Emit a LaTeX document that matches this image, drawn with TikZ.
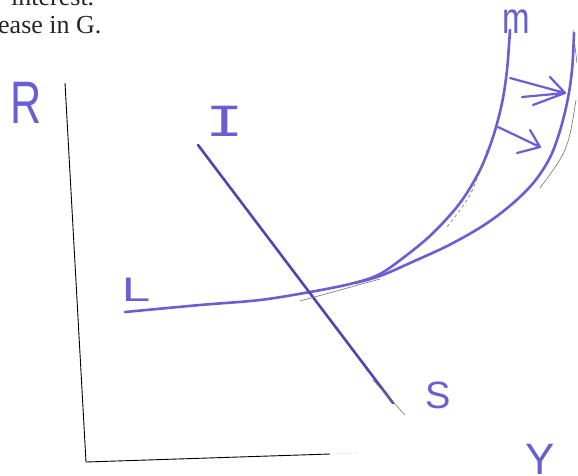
\documentclass[tikz,border=0pt]{standalone}
\usepackage{fontspec}
\setmainfont{Liberation Serif}
\newfontfamily\handfont{Liberation Sans}
\newfontfamily\monofont{Liberation Mono}
\definecolor{ink}{RGB}{105,95,210}
\definecolor{inkdark}{RGB}{80,70,175}
\begin{document}
\begin{tikzpicture}[x=1pt,y=-1pt]
\tikzset{
 pen/.style={draw=ink, line width=2.6pt, line cap=round, line join=round},
 pencil/.style={draw=black!55, line width=0.6pt},
 lab/.style={text=ink, inner sep=0pt},
 printed/.style={inner sep=0pt, anchor=base west, font=\fontsize{26}{30}\selectfont, text=black!85}
}
\useasboundingbox (0,0) rectangle (578,475);
\fill[white] (0,0) rectangle (578,475);
% printed text
\node[printed] (t1) at (11,5) {interest.};
\node[printed] (t2) at (-2,33) {ease in G.};
% axes
\coordinate (top) at (65,83);
\coordinate (origin) at (86,462);
\coordinate (xend) at (330,454);
\coordinate (xdot) at (358,453);
\draw[black, line width=0.9pt] (top) -- (origin) -- (xend);
\draw[black!60, dotted] (xend) -- (xdot);
% labels
\node[lab] (R) at (26,103) {\handfont\fontsize{60}{60}\selectfont\scalebox{0.72}[1]{R}};
\node[lab] (I) at (225,121) {\monofont\fontsize{46}{46}\selectfont\scalebox{1.4}[1]{I}};
\node[lab] (L) at (136,290) {\handfont\fontsize{34}{34}\selectfont\scalebox{1.5}[1]{L}};
\node[lab] (S) at (438,395) {\handfont\fontsize{38}{38}\selectfont S};
\node[lab] (m) at (516,22) {\handfont\fontsize{44}{44}\selectfont\scalebox{0.75}[1]{m}};
\node[lab] (Y) at (540,459) {\handfont\fontsize{44}{44}\selectfont Y};
% LM curves
\draw[pen] plot[smooth, tension=0.55] coordinates {(125,312) (200,305) (260,300) (310,292) (350,284) (378,275) (403,258) (432,234) (460,203) (480,170) (493,137) (502,103) (507,70) (510,30)};
\draw[pen] plot[smooth, tension=0.6] coordinates {(355,283) (380,276) (410,263) (453,243) (493,219) (527,190) (547,163) (558,137) (567,103) (572,70) (574,33)};
% IS line
\coordinate (Itop) at (198,145);
\coordinate (Iblue) at (393,403);
\coordinate (Ithin) at (373,380);
\coordinate (Ibot) at (405,415);
\draw[pen, draw=inkdark] (Itop) -- (Iblue);
\draw[pencil] (Ithin) -- (Ibot);
% shift arrows
\draw[pen, line width=2.2pt] (510,78) -- (565,93) (522,97) -- (565,93) (550,77) -- (565,93) (533,105) -- (565,93);
\draw[pen, line width=2.2pt] (498,127) -- (540,147) (530,130) -- (540,147) (517,153) -- (540,147);
% pencil marks
\draw[pencil, dashed] (487,150) .. controls (472,195) .. (447,227);
\draw[pencil] (576,100) .. controls (568,150) .. (540,188);
\draw[pencil] (300,301) -- (380,279);
\draw[pencil] (573,30) -- (577,63);
\end{tikzpicture}
\end{document}
